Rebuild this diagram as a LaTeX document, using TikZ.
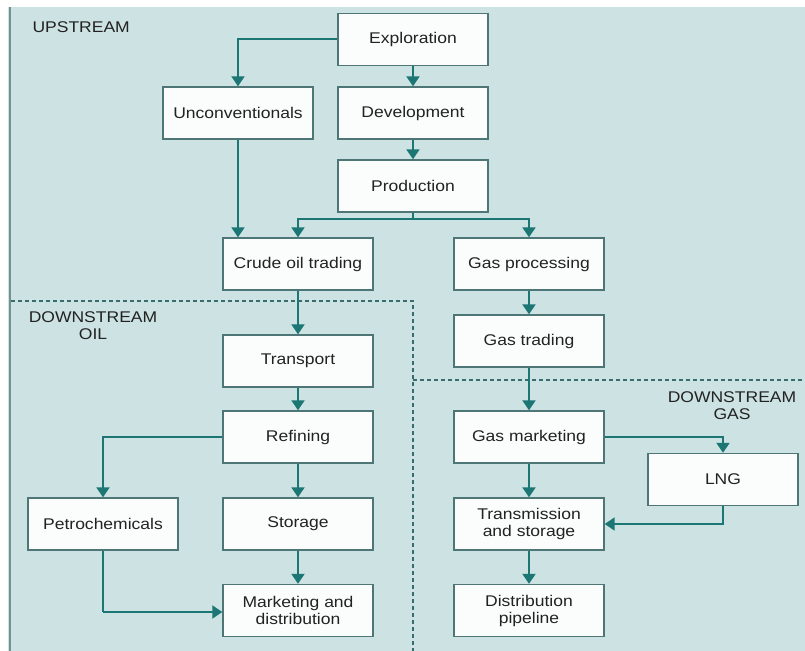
\documentclass[tikz,border=0pt]{standalone}
\usepackage{fontspec}
\setmainfont{Liberation Sans}[FakeStretch=1.13]
\usetikzlibrary{arrows.meta}
\definecolor{panel}{HTML}{CDE2E3}
\definecolor{flow}{HTML}{1C7673}
\definecolor{boxline}{HTML}{4F7677}
\definecolor{boxfill}{HTML}{FBFCFC}
\definecolor{ink}{HTML}{222222}
\definecolor{divider}{HTML}{3A6B6D}
\begin{document}
\begin{tikzpicture}[x=1bp,y=-1bp,
  stage/.style={draw=boxline, line width=1.4bp, fill=boxfill, minimum width=150bp,
    minimum height=52bp, inner sep=0pt, align=center, text=ink,
    font=\fontsize{15.5bp}{17bp}\selectfont},
  flowline/.style={draw=flow, line width=2bp, -{Triangle[width=13bp,length=10bp]}},
  plainline/.style={draw=flow, line width=2bp},
  region/.style={text=ink, align=center, font=\fontsize{15.5bp}{17bp}\selectfont},
  sep/.style={draw=divider, line width=1.2bp, dash pattern=on 4bp off 3bp}]
\useasboundingbox (0,0) rectangle (805,651);
% background panel with its left border
\fill[panel] (8,7) rectangle (805,651);
\draw[boxline!80, line width=1.2bp] (10,7) -- (10,651);

% region dividers
\draw[sep] (11,301) -- (413,301) -- (413,651);
\draw[sep] (413,380) -- (805,380);

% region labels
\node[region, anchor=west] (lblup) at (29,27) {UPSTREAM};
\node[region] (lbloil) at (93,326) {DOWNSTREAM\\OIL};
\node[region] (lblgas) at (732,405.5) {DOWNSTREAM\\GAS};

% upstream stages
\node[stage] (expl) at (413,39.5) {Exploration};
\node[stage] (dev) at (413,113) {Development};
\node[stage] (prod) at (413,186) {Production};
\node[stage] (unconv) at (238,113) {Unconventionals};
\node[stage] (crude) at (298,264) {Crude oil trading};
\node[stage] (gasproc) at (529,264) {Gas processing};

% downstream oil
\node[stage] (transport) at (298,361) {Transport};
\node[stage] (refining) at (298,437) {Refining};
\node[stage] (storage) at (298,524) {Storage};
\node[stage] (petro) at (103,524) {Petrochemicals};
\node[stage] (market) at (298,610.5) {Marketing and\\distribution};

% gas chain
\node[stage] (gastrade) at (529,341) {Gas trading};
\node[stage] (gasmkt) at (529,437) {Gas marketing};
\node[stage] (lng) at (723,479.5) {LNG};
\node[stage] (trans) at (529,524) {Transmission\\and storage};
\node[stage] (distr) at (529,610.5) {Distribution\\pipeline};

% upstream connectors
\draw[flowline] (expl.west) -| (unconv.north);
\draw[flowline] (expl) -- (dev);
\draw[flowline] (dev) -- (prod);
\draw[flowline] (unconv.south) -- (unconv.south |- crude.north);
\coordinate (split) at (413,219);
\draw[plainline] (prod.south) -- (split);
\draw[flowline] (split) -| (crude.north);
\draw[flowline] (split) -| (gasproc.north);

% oil connectors
\draw[flowline] (crude) -- (transport);
\draw[flowline] (transport) -- (refining);
\draw[flowline] (refining) -- (storage);
\draw[flowline] (storage) -- (market);
\draw[flowline] (refining.west) -| (petro.north);
\coordinate (petroturn) at (103,612);
\draw[plainline] (petro.south) -- (petroturn);
\draw[flowline] (petroturn) -- (petroturn -| market.west);

% gas connectors
\draw[flowline] (gasproc) -- (gastrade);
\draw[flowline] (gastrade) -- (gasmkt);
\draw[flowline] (gasmkt) -- (trans);
\draw[flowline] (trans) -- (distr);
\draw[flowline] (gasmkt.east) -| (lng.north);
\draw[flowline] (lng.south) |- (trans.east);
\end{tikzpicture}
\end{document}
